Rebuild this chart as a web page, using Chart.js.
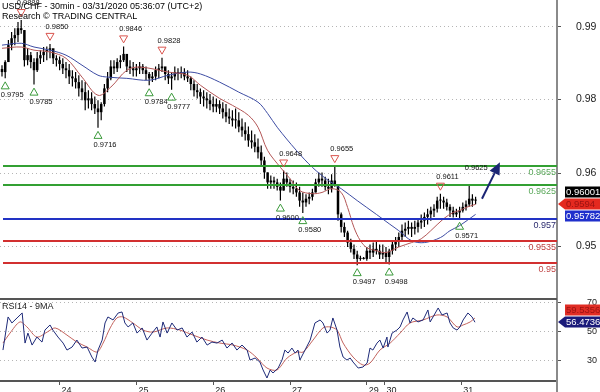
<!DOCTYPE html>
<html>
<head>
<meta charset="utf-8">
<script src="https://cdn.jsdelivr.net/npm/chart.js@4.4.0/dist/chart.umd.min.js"></script>
<style>
    html, body { margin: 0; padding: 0; background: #fff; }
    #wrap { position: relative; width: 600px; height: 392px; overflow: hidden; background: #fff; }
    #priceBox { position: absolute; left: 0; top: 0; width: 600px; height: 299px; }
    #rsiBox { position: absolute; left: 0; top: 297px; width: 600px; height: 95px; }
</style>
</head>
<body>
<div id="wrap">
    <div id="priceBox"><canvas id="priceChart"></canvas></div>
    <div id="rsiBox"><canvas id="rsiChart"></canvas></div>
</div>
<script>
// Header text
const titleLines = ['USD/CHF - 30min - 03/31/2020 05:36:07 (UTC+2)', 'Research \u00a9 TRADING CENTRAL'];
const rsiTitle = 'RSI14 - 9MA';

// X axis: hours since first bar, day ticks
const dayTicks = [18, 42, 66, 90, 114, 119.5, 143.5];
const dayLabels = ['24', '25', '26', '27', '29', '30', '31'];

// Y axis ticks (labels are rounded to 2 decimals like the source)
const priceTicks = [0.9877, 0.9762, 0.9644, 0.9527];
const rsiTicks = [30, 50, 70];

// Hourly candles (index = hour)
const firstOpen = 0.9810;
const highs = [
    0.9816,0.9824,0.9856,0.9869,0.9875,0.9885,0.9888,0.9872,0.9843,0.9837,
    0.9827,0.9837,0.9840,0.9845,0.9846,0.9850,0.9840,0.9832,0.9830,0.9827,
    0.9821,0.9818,0.9808,0.9805,0.9800,0.9792,0.9789,0.9776,0.9773,0.9766,
    0.9760,0.9757,0.9786,0.9805,0.9824,0.9824,0.9827,0.9832,0.9846,0.9830,
    0.9824,0.9821,0.9818,0.9821,0.9818,0.9814,0.9805,0.9805,0.9814,0.9818,
    0.9828,0.9811,0.9808,0.9805,0.9814,0.9811,0.9814,0.9811,0.9808,0.9798,
    0.9792,0.9786,0.9779,0.9776,0.9773,0.9770,0.9766,0.9763,0.9760,0.9757,
    0.9754,0.9747,0.9744,0.9747,0.9741,0.9731,0.9725,0.9718,0.9712,0.9706,
    0.9699,0.9688,0.9670,0.9645,0.9640,0.9638,0.9635,0.9629,0.9648,0.9645,
    0.9635,0.9632,0.9629,0.9622,0.9613,0.9610,0.9613,0.9619,0.9635,0.9645,
    0.9645,0.9638,0.9635,0.9642,0.9655,0.9626,0.9581,0.9565,0.9552,0.9539,
    0.9530,0.9520,0.9512,0.9510,0.9526,0.9530,0.9533,0.9536,0.9530,0.9530,
    0.9526,0.9523,0.9536,0.9542,0.9549,0.9562,0.9565,0.9568,0.9565,0.9568,
    0.9571,0.9578,0.9581,0.9587,0.9590,0.9594,0.9606,0.9611,0.9606,0.9603,
    0.9594,0.9590,0.9587,0.9590,0.9597,0.9600,0.9625,0.9610,0.9606
];
const lows = [
    0.9798,0.9795,0.9821,0.9840,0.9848,0.9853,0.9866,0.9814,0.9816,0.9811,
    0.9785,0.9805,0.9818,0.9821,0.9824,0.9827,0.9818,0.9814,0.9808,0.9802,
    0.9795,0.9786,0.9782,0.9779,0.9766,0.9760,0.9744,0.9747,0.9744,0.9738,
    0.9716,0.9728,0.9750,0.9773,0.9792,0.9802,0.9805,0.9811,0.9821,0.9805,
    0.9802,0.9798,0.9798,0.9802,0.9802,0.9792,0.9784,0.9789,0.9792,0.9795,
    0.9805,0.9792,0.9786,0.9777,0.9792,0.9792,0.9795,0.9792,0.9789,0.9776,
    0.9766,0.9763,0.9754,0.9750,0.9747,0.9744,0.9741,0.9741,0.9738,0.9731,
    0.9725,0.9722,0.9718,0.9715,0.9709,0.9702,0.9696,0.9686,0.9683,0.9677,
    0.9667,0.9656,0.9635,0.9619,0.9619,0.9619,0.9616,0.9600,0.9616,0.9622,
    0.9613,0.9610,0.9606,0.9590,0.9580,0.9590,0.9594,0.9600,0.9613,0.9622,
    0.9622,0.9616,0.9610,0.9613,0.9622,0.9568,0.9549,0.9542,0.9526,0.9517,
    0.9507,0.9497,0.9504,0.9506,0.9504,0.9507,0.9510,0.9514,0.9507,0.9507,
    0.9501,0.9498,0.9514,0.9520,0.9526,0.9536,0.9542,0.9546,0.9542,0.9546,
    0.9549,0.9555,0.9558,0.9562,0.9568,0.9574,0.9581,0.9587,0.9587,0.9584,
    0.9574,0.9573,0.9574,0.9571,0.9581,0.9584,0.9590,0.9590,0.9594
];
const closes = [
    0.9805,0.9821,0.9848,0.9859,0.9864,0.9875,0.9872,0.9824,0.9832,0.9821,
    0.9808,0.9827,0.9832,0.9837,0.9840,0.9843,0.9827,0.9824,0.9818,0.9811,
    0.9808,0.9798,0.9795,0.9789,0.9779,0.9773,0.9760,0.9763,0.9754,0.9747,
    0.9741,0.9754,0.9779,0.9795,0.9814,0.9811,0.9821,0.9824,0.9834,0.9814,
    0.9811,0.9808,0.9811,0.9814,0.9808,0.9802,0.9795,0.9798,0.9808,0.9811,
    0.9814,0.9802,0.9795,0.9798,0.9805,0.9802,0.9805,0.9798,0.9795,0.9786,
    0.9776,0.9773,0.9766,0.9763,0.9760,0.9754,0.9750,0.9754,0.9747,0.9741,
    0.9734,0.9731,0.9728,0.9728,0.9718,0.9712,0.9706,0.9696,0.9693,0.9686,
    0.9677,0.9664,0.9645,0.9629,0.9632,0.9629,0.9622,0.9616,0.9635,0.9629,
    0.9622,0.9619,0.9613,0.9600,0.9597,0.9603,0.9606,0.9613,0.9629,0.9635,
    0.9632,0.9622,0.9619,0.9632,0.9626,0.9578,0.9558,0.9549,0.9533,0.9523,
    0.9514,0.9507,0.9507,0.9507,0.9520,0.9517,0.9523,0.9520,0.9514,0.9517,
    0.9510,0.9520,0.9530,0.9536,0.9542,0.9552,0.9555,0.9558,0.9555,0.9558,
    0.9565,0.9568,0.9574,0.9578,0.9584,0.9587,0.9600,0.9600,0.9597,0.9590,
    0.9584,0.9578,0.9581,0.9584,0.9590,0.9594,0.9603,0.9600,0.9600
];

// Moving averages on price
const fastMaHours = [0, 6, 10, 15, 20, 25, 30, 34, 39, 43, 52, 58, 62, 68, 72, 77, 80, 83, 87, 90, 93, 97, 100, 103, 106, 108, 110, 112, 114, 117, 120, 124, 128, 131, 134, 138, 141, 143, 145, 148];
const fastMa = [0.9843, 0.9845, 0.9840, 0.9837, 0.9827, 0.9797, 0.9768, 0.9781, 0.9808, 0.9813, 0.9805, 0.9800, 0.9784, 0.9763, 0.9752, 0.9736, 0.9717, 0.9680, 0.9653, 0.9635, 0.9616, 0.9611, 0.9613, 0.9619, 0.9613, 0.9589, 0.9557, 0.9536, 0.9525, 0.9520, 0.9517, 0.9526, 0.9533, 0.9539, 0.9552, 0.9571, 0.9581, 0.9584, 0.9589, 0.9594];
const slowMaHours = [0, 6, 10, 15, 20, 25, 30, 33, 39, 46, 52, 58, 62, 68, 74, 80, 83, 86, 92, 97, 102, 106, 111, 117, 121, 124, 128, 132, 137, 140, 143, 148];
const slowMa = [0.9848, 0.9851, 0.9845, 0.9840, 0.9832, 0.9816, 0.9800, 0.9797, 0.9795, 0.9792, 0.9800, 0.9805, 0.9802, 0.9789, 0.9773, 0.9757, 0.9739, 0.9717, 0.9680, 0.9653, 0.9632, 0.9619, 0.9600, 0.9578, 0.9563, 0.9552, 0.9536, 0.9533, 0.9541, 0.9552, 0.9560, 0.9578];

// Key levels
const levelValues = [0.9655, 0.9625, 0.957, 0.9535, 0.95];

// Swing highs / lows
const swingHours = [6, 1, 10, 15, 30, 38, 46, 50, 53, 88, 87, 94, 104, 111, 121, 137, 143, 146];
const swingPrices = [0.9888, 0.9795, 0.9785, 0.9850, 0.9716, 0.9846, 0.9784, 0.9828, 0.9777, 0.9648, 0.9600, 0.9580, 0.9655, 0.9497, 0.9498, 0.9611, 0.9571, 0.9625];
const swingKinds = ['high', 'low', 'low', 'high', 'low', 'high', 'low', 'high', 'low', 'high', 'low', 'low', 'high', 'low', 'low', 'high', 'low', 'note'];

// Scenario arrow [hour, price]
const arrowFrom = [150, 0.9603];
const arrowTo = [155.6, 0.9661];

// Last values shown on the right (top to bottom)
const priceTags = [0.96001, 0.9594, 0.95782];
const rsiTags = [59.5356, 56.4736];

// RSI and its 9 MA
const rsiHours = [0.3,1.9,3.1,4.7,6.3,7.2,8.1,9.4,10.9,12.5,13.4,15.0,15.9,17.5,19.1,20.3,21.9,23.4,25.0,26.6,28.1,29.1,30.0,31.3,32.2,33.1,34.7,36.3,37.5,38.4,39.4,40.9,42.2,43.8,45.3,46.9,48.4,49.4,50.3,51.6,53.1,54.7,56.3,57.8,59.4,60.9,62.5,64.1,65.6,67.2,68.8,70.3,71.9,73.4,75.0,76.6,77.5,79.1,80.6,81.6,82.8,83.8,84.7,86.3,87.5,88.4,89.4,90.6,91.6,92.5,93.1,94.7,96.3,97.8,99.4,100.3,101.6,102.5,103.4,104.7,105.6,106.6,107.8,108.8,109.7,111.3,112.8,114.1,115.0,115.9,117.2,118.1,119.1,120.3,120.6,121.9,123.4,124.4,125.3,126.6,127.5,128.4,130.0,131.6,133.1,133.8,134.7,136.3,137.5,139.1,140.0,141.0,142.2,143.1,144.1,145.6,146.9,147.8];
const rsiValues = [37.0,60.2,56.0,59.5,63.0,41.9,48.9,40.5,46.1,42.6,51.0,54.6,51.0,46.1,41.9,37.0,39.1,44.0,38.4,39.1,32.1,28.6,37.0,44.0,56.0,60.2,58.1,63.0,63.7,56.0,53.2,56.0,48.9,52.5,44.0,48.9,53.2,46.1,56.7,48.9,56.0,51.0,52.5,46.1,49.6,42.6,46.1,40.5,42.6,41.9,44.0,38.4,41.9,37.0,40.5,37.0,30.0,31.4,28.6,23.0,17.4,23.0,20.9,24.4,30.0,37.0,34.9,38.4,34.9,37.0,30.0,37.0,44.0,56.0,58.1,56.0,48.9,51.0,59.5,51.0,39.1,32.1,30.0,31.4,28.6,24.4,25.1,27.9,38.4,37.0,41.9,44.0,38.4,46.1,39.1,48.9,51.0,53.2,58.1,63.7,56.0,59.5,56.7,58.1,65.1,56.7,60.2,66.5,61.6,63.0,56.0,52.5,51.0,53.2,58.1,63.0,60.2,56.5];
const rsiMaHours = [0.3,2.5,5.6,7.8,10.9,14.1,16.6,20.3,23.4,26.6,29.7,31.6,33.8,35.9,37.8,40.9,44.1,47.2,51.6,55.6,59.7,64.1,68.1,72.2,76.6,79.7,82.8,85.9,89.1,92.2,94.1,97.2,100.3,102.5,104.7,106.6,109.7,112.8,115.0,118.1,121.3,124.4,127.5,131.6,135.9,139.1,142.2,144.1,146.3,147.8];
const rsiMaValues = [41.9,48.9,56.7,53.2,46.1,49.6,52.5,47.5,42.6,39.1,35.6,41.9,52.5,59.5,60.2,56.0,51.0,49.6,52.5,51.0,47.5,44.0,41.9,40.5,37.0,31.4,24.4,23.0,31.4,35.6,35.6,44.0,52.5,53.2,51.0,41.9,32.1,26.5,27.9,37.0,41.9,48.9,56.0,58.1,61.6,60.2,53.2,54.6,56.7,59.5];

const FONT = "'Liberation Sans', Arial, sans-serif";

document.addEventListener('DOMContentLoaded', function() {
    Chart.defaults.font.family = FONT;
    Chart.defaults.color = '#333';

    const xMin = -0.625;
    const xMax = 173.4375;
    const axisWidth = 43;

    const pairs = (xs, ys) => xs.map((x, i) => ({ x: x, y: ys[i] }));
    const openAt = i => (i === 0 ? firstOpen : closes[i - 1]);

    // fixed-width right axis, no extra vertical padding for the labels
    const fitRightAxis = scale => {
        scale.width = axisWidth;
        scale.paddingTop = 0;
        scale.paddingBottom = 0;
    };

    // Coloured boxes with the last values, the pointer one keeps its place
    function drawTags(chart, values, fills, inks, pointer) {
        const ctx = chart.ctx;
        const yScale = chart.scales.y;
        const tip = yScale.left + 1;
        const boxLeft = yScale.left + 8;
        const right = chart.width;
        const h = 11;
        const ys = values.map(v => yScale.getPixelForValue(v));
        for (let i = pointer - 1; i >= 0; i--) ys[i] = Math.min(ys[i], ys[i + 1] - 12);
        for (let i = pointer + 1; i < values.length; i++) ys[i] = Math.max(ys[i], ys[i - 1] + 12);
        ctx.save();
        ctx.font = '9.5px ' + FONT;
        ctx.textBaseline = 'middle';
        ctx.textAlign = 'left';
        values.forEach((v, i) => {
            const y = Math.round(ys[i]);
            ctx.fillStyle = fills[i];
            ctx.beginPath();
            if (i === pointer) {
                ctx.moveTo(tip, y);
                ctx.lineTo(boxLeft, y - h / 2);
                ctx.lineTo(right, y - h / 2);
                ctx.lineTo(right, y + h / 2);
                ctx.lineTo(boxLeft, y + h / 2);
                ctx.closePath();
            } else {
                ctx.rect(boxLeft, y - h / 2, right - boxLeft, h);
            }
            ctx.fill();
            ctx.fillStyle = inks[i];
            ctx.fillText(String(v), boxLeft + 1, y + 0.5);
        });
        ctx.restore();
    }

    // Levels, arrow and swing markers on the price panel
    const priceOverlay = {
        id: 'priceOverlay',
        afterDatasetsDraw(chart) {
            const { ctx, chartArea, scales: { x, y } } = chart;
            const lineColors = ['#33a033', '#33a033', '#2233c4', '#d23030', '#d23030'];
            const inkColors = ['#5aa85a', '#5aa85a', '#2b2b6e', '#c04444', '#c04444'];
            ctx.save();
            ctx.font = '9px ' + FONT;
            ctx.textAlign = 'right';
            ctx.textBaseline = 'middle';
            levelValues.forEach((v, i) => {
                const py = Math.round(y.getPixelForValue(v));
                ctx.strokeStyle = lineColors[i];
                ctx.lineWidth = 2;
                ctx.beginPath();
                ctx.moveTo(chartArea.left + 3, py);
                ctx.lineTo(chartArea.right, py);
                ctx.stroke();
                ctx.fillStyle = inkColors[i];
                ctx.fillText(String(v), chartArea.right - 1, py + 7);
            });

            // arrow
            const ax0 = x.getPixelForValue(arrowFrom[0]);
            const ay0 = y.getPixelForValue(arrowFrom[1]);
            const ax1 = x.getPixelForValue(arrowTo[0]);
            const ay1 = y.getPixelForValue(arrowTo[1]);
            const ang = Math.atan2(ay1 - ay0, ax1 - ax0);
            const headLen = 12, headHalf = 5.5;
            const bx = ax1 - Math.cos(ang) * headLen;
            const by = ay1 - Math.sin(ang) * headLen;
            ctx.strokeStyle = '#1b2575';
            ctx.fillStyle = '#1b2575';
            ctx.lineWidth = 2;
            ctx.beginPath();
            ctx.moveTo(ax0, ay0);
            ctx.lineTo(bx, by);
            ctx.stroke();
            ctx.beginPath();
            ctx.moveTo(ax1, ay1);
            ctx.lineTo(bx + Math.sin(ang) * headHalf, by - Math.cos(ang) * headHalf);
            ctx.lineTo(bx - Math.sin(ang) * headHalf, by + Math.cos(ang) * headHalf);
            ctx.closePath();
            ctx.fill();

            // swing markers
            ctx.font = '7.5px ' + FONT;
            ctx.textAlign = 'center';
            swingHours.forEach((hr, i) => {
                const kind = swingKinds[i];
                const px = x.getPixelForValue(hr);
                const py = y.getPixelForValue(swingPrices[i]);
                const dir = kind === 'low' ? 1 : -1;
                if (kind !== 'note') {
                    const ty = py + dir * 7;
                    ctx.strokeStyle = kind === 'low' ? '#3b9a3b' : '#d9554f';
                    ctx.lineWidth = 1;
                    ctx.beginPath();
                    ctx.moveTo(px, ty - dir * 3.5);
                    ctx.lineTo(px - 4, ty + dir * 3.5);
                    ctx.lineTo(px + 4, ty + dir * 3.5);
                    ctx.closePath();
                    ctx.stroke();
                }
                ctx.fillStyle = '#111';
                ctx.fillText(swingPrices[i].toFixed(4), px + 7, py + dir * 17);
            });
            ctx.restore();
        },
        afterDraw(chart) {
            const ctx = chart.ctx;
            drawTags(chart, priceTags, ['#000', '#e4291f', '#1f2fcc'], ['#fff', '#9a1212', '#fff'], 1);
            ctx.save();
            ctx.font = '9px ' + FONT;
            ctx.fillStyle = '#000';
            ctx.textAlign = 'left';
            ctx.textBaseline = 'alphabetic';
            ctx.fillText(titleLines[0], 2, 9);
            ctx.fillText(titleLines[1], 2, 18.5);
            ctx.restore();
        }
    };

    // Price chart
    const priceCtx = document.getElementById('priceChart').getContext('2d');
    const priceChart = new Chart(priceCtx, {
        type: 'bar',
        data: {
            datasets: [
                {
                    type: 'line',
                    data: pairs(fastMaHours, fastMa),
                    borderColor: '#b35656',
                    borderWidth: 1,
                    pointRadius: 0,
                    tension: 0.35,
                    fill: false,
                    order: 0
                },
                {
                    type: 'line',
                    data: pairs(slowMaHours, slowMa),
                    borderColor: '#3d4ca3',
                    borderWidth: 1,
                    pointRadius: 0,
                    tension: 0.35,
                    fill: false,
                    order: 0
                },
                {
                    // candle bodies
                    data: closes.map((c, i) => ({ x: i, y: [openAt(i), c] })),
                    backgroundColor: '#000',
                    barThickness: 2.5,
                    minBarLength: 1,
                    grouped: false,
                    inflateAmount: 0,
                    order: 1
                },
                {
                    // wicks
                    data: highs.map((hi, i) => ({ x: i, y: [lows[i], hi] })),
                    backgroundColor: '#000',
                    barThickness: 1.2,
                    minBarLength: 1,
                    grouped: false,
                    inflateAmount: 0,
                    order: 2
                }
            ]
        },
        options: {
            responsive: true,
            maintainAspectRatio: false,
            animation: false,
            events: [],
            layout: { padding: 0, autoPadding: false },
            scales: {
                x: {
                    type: 'linear',
                    min: xMin,
                    max: xMax,
                    offset: false,
                    display: false,
                    grid: { offset: false }
                },
                y: {
                    type: 'linear',
                    position: 'right',
                    min: 0.9443,
                    max: 0.9920,
                    beginAtZero: false,
                    afterFit: fitRightAxis,
                    afterBuildTicks: scale => { scale.ticks = priceTicks.map(v => ({ value: v })); },
                    border: { color: '#8a8a8a', width: 2, dash: [1, 3] },
                    grid: {
                        color: '#b5b5b5',
                        lineWidth: 1,
                        tickLength: 4,
                        tickColor: '#555',
                        tickWidth: 1,
                        tickBorderDash: []
                    },
                    ticks: {
                        crossAlign: 'near',
                        padding: 15,
                        color: '#222',
                        font: { size: 10.5 },
                        callback: v => v.toFixed(2)
                    }
                }
            },
            plugins: {
                legend: { display: false },
                tooltip: { enabled: false }
            }
        },
        plugins: [priceOverlay]
    });

    // RSI panel extras
    const rsiOverlay = {
        id: 'rsiOverlay',
        afterDraw(chart) {
            const { ctx, chartArea, scales: { y } } = chart;
            ctx.save();
            ctx.strokeStyle = '#555';
            ctx.lineWidth = 2;
            ctx.beginPath();
            ctx.moveTo(chartArea.left, chartArea.top);
            ctx.lineTo(chartArea.right, chartArea.top);
            ctx.stroke();
            ctx.strokeStyle = '#8a8a8a';
            ctx.beginPath();
            ctx.moveTo(y.left, chartArea.bottom);
            ctx.lineTo(y.left, chart.height);
            ctx.stroke();
            ctx.font = '9px ' + FONT;
            ctx.fillStyle = '#222';
            ctx.textBaseline = 'alphabetic';
            ctx.fillText(rsiTitle, 2, chartArea.top + 9.5);
            ctx.restore();
            drawTags(chart, rsiTags, ['#e02d25', '#1b1b7a'], ['#9a1212', '#fff'], 1);
        }
    };

    // RSI chart
    const rsiCtx = document.getElementById('rsiChart').getContext('2d');
    const rsiChart = new Chart(rsiCtx, {
        type: 'line',
        data: {
            datasets: [
                {
                    data: pairs(rsiHours, rsiValues),
                    borderColor: '#1e2a78',
                    borderWidth: 1,
                    pointRadius: 0,
                    tension: 0,
                    fill: false,
                    order: 0
                },
                {
                    data: pairs(rsiMaHours, rsiMaValues),
                    borderColor: '#c2625c',
                    borderWidth: 1,
                    pointRadius: 0,
                    tension: 0.3,
                    fill: false,
                    order: 1
                }
            ]
        },
        options: {
            responsive: true,
            maintainAspectRatio: false,
            animation: false,
            events: [],
            layout: { padding: { top: 2 }, autoPadding: false },
            scales: {
                x: {
                    type: 'linear',
                    min: xMin,
                    max: xMax,
                    offset: false,
                    afterFit: scale => {
                        scale.height = 11;
                        scale.paddingLeft = 0;
                        scale.paddingRight = 0;
                    },
                    afterBuildTicks: scale => { scale.ticks = dayTicks.map(v => ({ value: v })); },
                    border: { color: '#555', width: 2 },
                    grid: {
                        offset: false,
                        drawOnChartArea: false,
                        tickLength: 4,
                        tickColor: '#555',
                        tickWidth: 1
                    },
                    ticks: {
                        autoSkip: false,
                        maxRotation: 0,
                        minRotation: 0,
                        align: 'start',
                        labelOffset: 2,
                        padding: 0,
                        color: '#222',
                        font: { size: 9 },
                        callback: (v, i) => dayLabels[i]
                    }
                },
                y: {
                    type: 'linear',
                    position: 'right',
                    min: 15.3,
                    max: 72.8,
                    afterFit: fitRightAxis,
                    afterBuildTicks: scale => { scale.ticks = rsiTicks.map(v => ({ value: v })); },
                    border: { color: '#8a8a8a', width: 2, dash: [1, 3] },
                    grid: {
                        color: '#b5b5b5',
                        lineWidth: 1,
                        tickLength: 4,
                        tickColor: '#555',
                        tickWidth: 1,
                        tickBorderDash: []
                    },
                    ticks: {
                        crossAlign: 'near',
                        padding: 26,
                        color: '#222',
                        font: { size: 9 },
                        callback: v => String(v)
                    }
                }
            },
            plugins: {
                legend: { display: false },
                tooltip: { enabled: false }
            }
        },
        plugins: [rsiOverlay]
    });
});
</script>
</body>
</html>
